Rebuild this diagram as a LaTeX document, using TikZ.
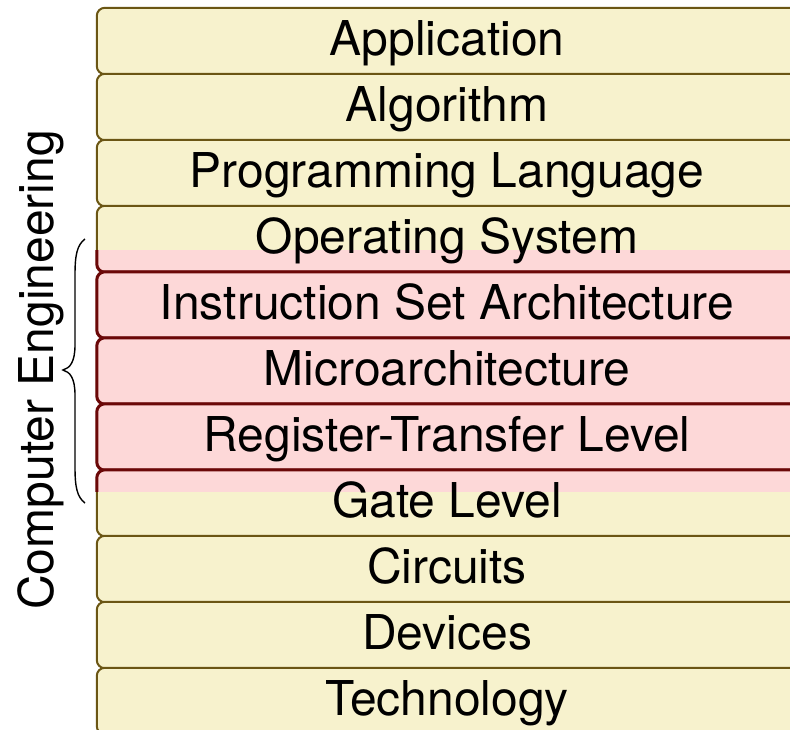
\documentclass[tikz,border=0pt]{standalone}
\usepackage{fontspec}
\setmainfont{TeX Gyre Heros}
\pgfdeclarelayer{background}
\pgfsetlayers{background,main}
\definecolor{ylfill}{RGB}{247,242,205}
\definecolor{ylline}{RGB}{107,86,20}
\definecolor{pkfill}{RGB}{253,216,216}
\definecolor{pkline}{RGB}{107,8,8}
\tikzset{
  lbl/.style={minimum width=700pt, minimum height=66pt, inner sep=0pt,
    text height=36pt, text depth=7pt, font=\fontsize{48}{58}\selectfont},
  ybox/.style={fill=ylfill, draw=ylline, line width=2pt, rounded corners=8pt},
  pbox/.style={fill=pkfill, draw=pkline, line width=3pt, rounded corners=8pt},
  bracepath/.style={draw=black, line width=1.4pt},
  sidelbl/.style={rotate=90, anchor=base, inner sep=0pt, font=\fontsize{48}{58}\selectfont}
}
\begin{document}
\begin{tikzpicture}[x=1pt,y=-1pt]
\clip (0,0) rectangle (790,729);
\useasboundingbox (0,0) rectangle (790,729);
\node[lbl] (L1) at (447,41) {Application};
\node[lbl] (L2) at (447,107) {Algorithm};
\node[lbl] (L3) at (447,173) {Programming Language};
\node[lbl] (L4) at (447,239) {Operating System};
\node[lbl] (L5) at (447,305) {Instruction Set Architecture};
\node[lbl] (L6) at (447,371) {Microarchitecture};
\node[lbl] (L7) at (447,437) {Register-Transfer Level};
\node[lbl] (L8) at (447,503) {Gate Level};
\node[lbl] (L9) at (447,569) {Circuits};
\node[lbl] (L10) at (447,635) {Devices};
\node[lbl] (L11) at (447,701) {Technology};
\begin{pgfonlayer}{background}
\foreach \i in {1,...,11} {
  \path[ybox] (L\i.north west) rectangle (L\i.south east);
}
\begin{scope}
\clip (0,250) rectangle (790,491);
\foreach \i in {4,...,8} {
  \path[pbox] (L\i.north west) rectangle (L\i.south east);
}
\end{scope}
\end{pgfonlayer}
\coordinate (bt) at (85,239);
\coordinate (bb) at (85,503);
\coordinate (btip) at (63,370);
\path[bracepath] (bt) .. controls (77,245) and (75,255) .. (75,275) -- (75,345)
  .. controls (75,362) and (70,368) .. (btip)
  .. controls (70,372) and (75,378) .. (75,395) -- (75,467)
  .. controls (75,487) and (77,497) .. (bb);
\node[sidelbl] (CE) at (53,370) {Computer Engineering};
\end{tikzpicture}
\end{document}
